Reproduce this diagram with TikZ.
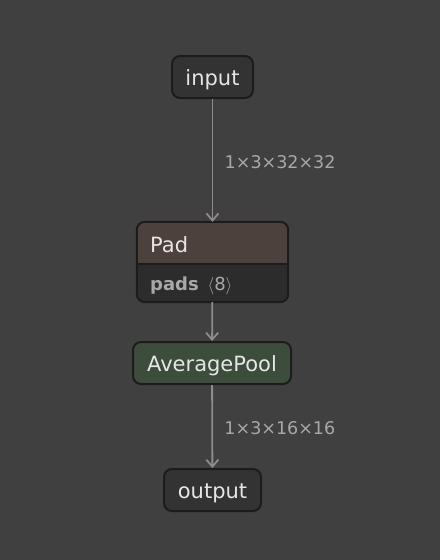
\documentclass[tikz,border=0pt]{standalone}
\usepackage{fontspec}
\setmainfont{DejaVu Sans}
\usepackage{tikz}
\usetikzlibrary{positioning}
\usetikzlibrary{arrows.meta}

\definecolor{bgcol}{HTML}{404040}
\definecolor{nodecol}{HTML}{333333}
\definecolor{edgecol}{HTML}{8C8C8C}
\definecolor{padcol}{HTML}{4C413D}
\definecolor{attrcol}{HTML}{2C2C2C}
\definecolor{poolcol}{HTML}{3C4D3C}
\definecolor{textcol}{HTML}{E6E6E6}
\definecolor{labelcol}{HTML}{A8A8A8}
\definecolor{bordercol}{HTML}{1C1C1C}

\tikzset{
  iobox/.style={draw=bordercol, fill=nodecol, line width=2pt, rounded corners=8pt,
    text=textcol, font=\fontsize{21}{21}\selectfont, minimum height=42pt,
    text height=19pt, text depth=2pt},
  opbox/.style={draw=bordercol, line width=2pt, rounded corners=8pt,
    text=textcol, font=\fontsize{21}{21}\selectfont, minimum height=42pt,
    text height=19pt, text depth=2pt},
  dimlabel/.style={text=labelcol, font=\fontsize{17.5}{17.5}\selectfont, anchor=west, yshift=-2pt},
  flow/.style={-{Straight Barb[length=7pt, width=12pt, line width=1.8pt]}, draw=edgecol, line width=1.8pt}
}

\begin{document}
\begin{tikzpicture}[x=1pt, y=-1pt]
  \fill[bgcol] (0,0) rectangle (440,560);
  \useasboundingbox (0,0) rectangle (440,560);

  \node[iobox, minimum width=81pt] (input) at (212.5,77) {input};

  % Pad with its attribute row
  \node[draw=none, minimum width=151pt, minimum height=80pt] (pad) at (212.5,262) {};
  \fill[attrcol, rounded corners=8pt] (pad.north west) rectangle (pad.south east);
  \begin{scope}
    \clip[rounded corners=8pt] (pad.north west) rectangle (pad.south east);
    \fill[padcol] (pad.north west) rectangle ([yshift=-42pt]pad.north east);
  \end{scope}
  \draw[bordercol, line width=2pt] ([yshift=-42pt]pad.north west) -- ([yshift=-42pt]pad.north east);
  \draw[bordercol, line width=2pt, rounded corners=8pt] (pad.north west) rectangle (pad.south east);
  \node[text=textcol, font=\fontsize{21}{21}\selectfont, anchor=base west, inner sep=0pt] (padname) at (150,252) {Pad};
  \node[text=labelcol, font=\fontsize{18}{18}\selectfont, anchor=base west, inner sep=0pt] (padattr) at (150,290)
    {\textbf{pads} \,$\langle$8$\rangle$};

  \node[opbox, fill=poolcol, minimum width=158pt] (pool) at (212,363) {AveragePool};

  \node[iobox, minimum width=97pt] (output) at (212.5,490) {output};

  \draw[flow] (input) -- (pad) node[dimlabel, midway, xshift=8pt] {1×3×32×32};
  \draw[flow] (pad) -- (pool);
  \draw[flow] (pool) -- (output) node[dimlabel, midway, xshift=8pt] {1×3×16×16};
\end{tikzpicture}
\end{document}
